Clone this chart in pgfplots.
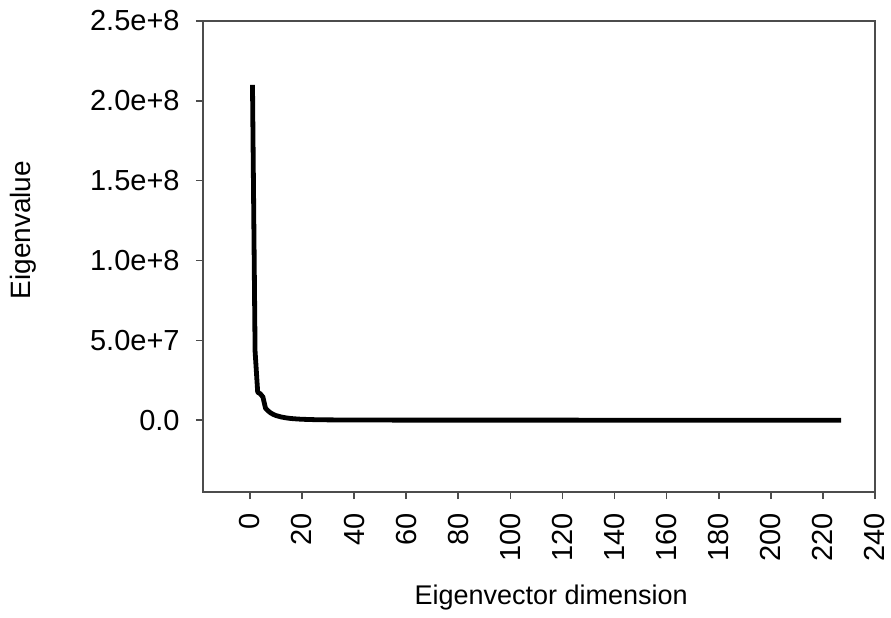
\documentclass[border=0pt]{standalone}
\usepackage{fontspec}
\setmainfont{Liberation Sans}
\usepackage{pgfplots}
\pgfplotsset{compat=1.18}
\usetikzlibrary{calc}
\begin{document}
\begin{tikzpicture}
\begin{axis}[
  name=ax,
  scale only axis,
  width=336pt, height=235.5pt,
  xmin=-18, xmax=240,
  ymin=-4.5e7, ymax=2.5e8,
  axis line style={draw=black!70, line width=0.8pt},
  xtick={0,20,...,240},
  ytick={0,5e7,1e8,1.5e8,2e8,2.5e8},
  yticklabels={0.0,5.0e+7,1.0e+8,1.5e+8,2.0e+8,2.5e+8},
  scaled y ticks=false,
  xtick pos=bottom, ytick pos=left,
  tick align=outside,
  major tick length=3.5pt,
  tick style={black!70, line width=0.8pt},
  /pgf/number format/assume math mode=true,
  tick label style={font=\fontsize{14.5}{17}\selectfont},
  xticklabel style={rotate=90, anchor=east, inner sep=0pt},
  xticklabel shift=7pt,
  yticklabel style={inner sep=0pt},
  yticklabel shift=8pt,
  xlabel={Eigenvector dimension},
  ylabel={Eigenvalue},
  every axis x label/.style={at={(axis description cs:0.518,0)}, yshift=-53pt, anchor=center, font=\fontsize{13.5}{16}\selectfont},
  every axis y label/.style={at={(axis description cs:0,0.556)}, xshift=-90pt, rotate=90, anchor=center, font=\fontsize{14}{16}\selectfont},
]
\addplot[black, line width=2.4pt, line join=round] coordinates {
(1,2.1e8) (2,4.3e7) (3,1.75e7) (4,1.65e7) (5,1.45e7) (6,7.5e6) (7,5.8e6) (8,4.5e6)
(9,3.6e6) (10,2.9e6) (12,2.0e6) (14,1.4e6) (16,1.0e6) (18,7.5e5) (20,5.5e5)
(25,3e5) (30,1.8e5) (40,8e4) (50,4e4) (70,1.5e4) (100,5e3) (150,1e3) (200,3e2) (227,1e2)
};
\end{axis}
\path[use as bounding box] ($(ax.south west)+(-101.5pt,-62.5pt)$) rectangle ($(ax.north east)+(8pt,10.5pt)$);
\end{tikzpicture}
\end{document}
